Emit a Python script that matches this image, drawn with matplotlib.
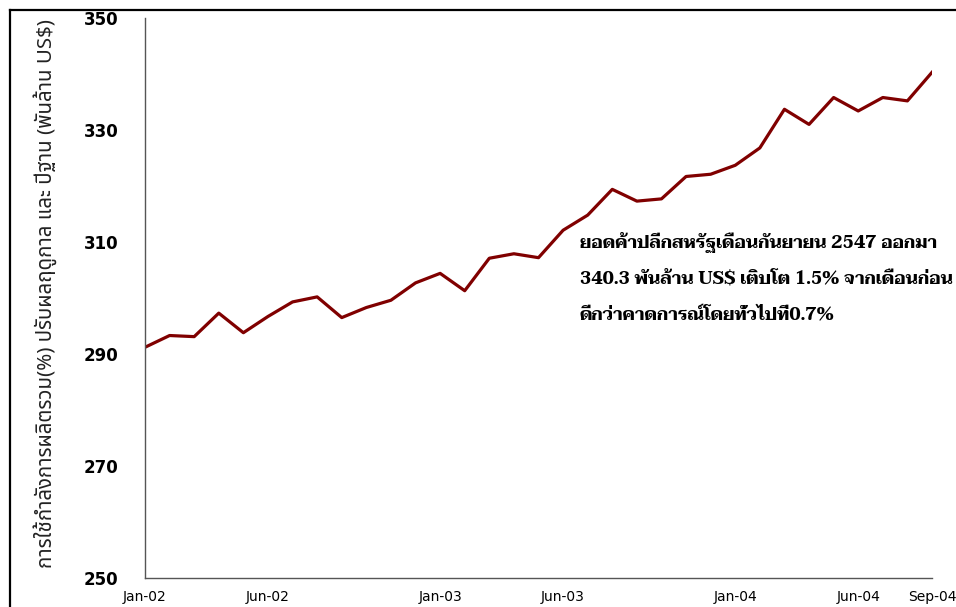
import matplotlib
matplotlib.use("Agg")
import matplotlib.pyplot as plt
from matplotlib import font_manager
from matplotlib.lines import Line2D

months = ["Jan-02", "Feb-02", "Mar-02", "Apr-02", "May-02", "Jun-02", "Jul-02", "Aug-02",
          "Sep-02", "Oct-02", "Nov-02", "Dec-02", "Jan-03", "Feb-03", "Mar-03", "Apr-03",
          "May-03", "Jun-03", "Jul-03", "Aug-03", "Sep-03", "Oct-03", "Nov-03", "Dec-03",
          "Jan-04", "Feb-04", "Mar-04", "Apr-04", "May-04", "Jun-04", "Jul-04", "Aug-04", "Sep-04"]
sales = [291.2, 293.3, 293.1, 297.3, 293.8, 296.7, 299.3, 300.2, 296.5, 298.3, 299.6,
         302.7, 304.4, 301.3, 307.1, 307.9, 307.2, 312.1, 314.8, 319.4, 317.3, 317.7,
         321.7, 322.1, 323.7, 326.8, 333.7, 331.0, 335.8, 333.4, 335.8, 335.2, 340.3]
tick_labels = ["Jan-02", "Jun-02", "Jan-03", "Jun-03", "Jan-04", "Jun-04", "Sep-04"]
y_ticks = [250, 270, 290, 310, 330, 350]

ylabel = "การใช้กำลังการผลิตรวม(%) ปรับผลฤดูกาล และ ปีฐาน (พันล้าน US$)"
note_lines = ["ยอดค้าปลีกสหรัฐเดือนกันยายน 2547 ออกมา",
              "340.3 พันล้าน US$ เติบโต 1.5% จากเดือนก่อน",
              "ดีกว่าคาดการณ์โดยทั่วไปที่0.7%"]

installed = {f.name for f in font_manager.fontManager.ttflist}
def pick(cands, fallback):
    return [c for c in cands if c in installed][:1] + fallback

sans_thai = pick(["Noto Sans Thai", "Sarabun", "Anuphan", "Athiti"], ["DejaVu Sans"])
serif_thai = pick(["Taviraj", "Trirong", "Pridi", "Noto Serif Thai", "Sarabun"], ["DejaVu Serif"])

fig = plt.figure(figsize=(9.56, 6.07), dpi=100)
ax = fig.add_axes([145/956, 1-578/607, (932-145)/956, (578-18)/607])

x = list(range(len(months)))
ax.plot(x, sales, color="#800000", lw=2.3)
ax.set_xlim(0, len(months)-1)
ax.set_ylim(250, 350)
ax.set_yticks(y_ticks)
ax.set_yticklabels([str(v) for v in y_ticks], fontsize=12, fontweight="bold")
tick_pos = [months.index(t) for t in tick_labels]
ax.set_xticks(tick_pos)
ax.set_xticklabels(tick_labels, fontsize=10)
ax.tick_params(axis="y", length=0, pad=19)
ax.tick_params(axis="x", length=0, pad=9)
for s in ["top", "right"]:
    ax.spines[s].set_visible(False)
for s in ["left", "bottom"]:
    ax.spines[s].set_color("#555555")
    ax.spines[s].set_linewidth(1.0)

renderer = fig.canvas.get_renderer()

def fit(t, target_px, horizontal=True):
    bb = t.get_window_extent(renderer)
    size = bb.width if horizontal else bb.height
    t.set_fontsize(t.get_fontsize() * target_px / size)

yl = fig.text(45/956, 1-294/607, ylabel, rotation=90, ha="center", va="center",
              fontsize=12, family=sans_thai, color="#222222")
fit(yl, 550, horizontal=False)

notes = []
for i, line in enumerate(note_lines):
    notes.append(fig.text(580/956, 1-(242+37*i)/607, line, ha="left", va="center",
                          fontsize=12, fontweight="bold", family=serif_thai))
fit(notes[0], 355)
for t in notes[1:]:
    t.set_fontsize(notes[0].get_fontsize())

fig.add_artist(Line2D([10/956, 1], [1-10/607, 1-10/607], color="black", lw=1.6,
                      transform=fig.transFigure))
fig.add_artist(Line2D([10/956, 10/956], [0, 1-10/607], color="black", lw=1.6,
                      transform=fig.transFigure))

fig.savefig("out.png", dpi=100)
